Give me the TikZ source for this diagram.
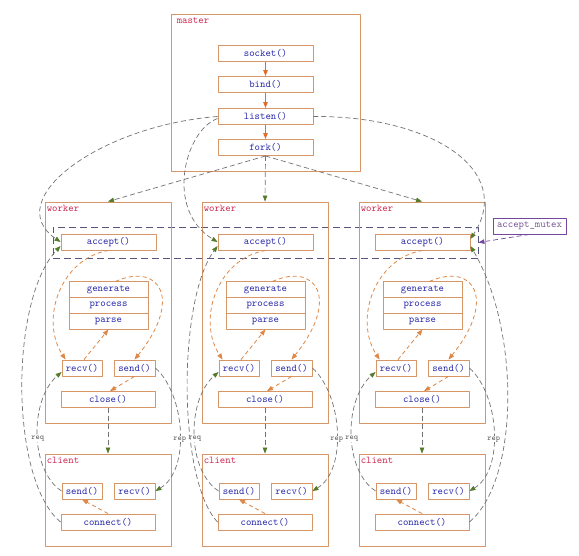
\documentclass[tikz,border=0pt]{standalone}
\usepackage{fontspec}
\usepackage{tikz}
\usetikzlibrary{arrows.meta}
\definecolor{boxc}{RGB}{214,150,104}
\definecolor{fnc}{RGB}{40,40,170}
\definecolor{tagc}{RGB}{205,40,80}
\definecolor{seqc}{RGB}{228,108,40}
\definecolor{flowc}{RGB}{222,135,70}
\definecolor{linkc}{RGB}{115,115,115}
\definecolor{tipc}{RGB}{84,122,44}
\definecolor{mutc}{RGB}{85,85,125}
\definecolor{mutexc}{RGB}{115,70,160}
\newcommand\fnfont{\fontsize{10.3}{12}\selectfont\ttfamily}
\newcommand\lblfont{\fontsize{8}{9}\selectfont\ttfamily}
\tikzset{
  every picture/.style={line join=round, >=Stealth},
  fn/.style={draw=boxc, line width=0.9pt, fill=white, text=fnc, font=\fnfont, inner sep=0pt, minimum height=16pt},
  grp/.style={draw=boxc, line width=0.9pt, inner sep=0pt},
  tag/.style={text=tagc, font=\fnfont, anchor=north west, inner sep=0pt},
  seq/.style={draw=seqc, line width=0.9pt, -{Triangle[length=6pt,width=4.5pt]}},
  flow/.style={draw=flowc, line width=0.8pt, dash pattern=on 4pt off 3pt, -{Triangle[length=6pt,width=4.5pt]}},
  link/.style={draw=linkc, line width=0.7pt, dash pattern=on 5pt off 3pt, -{Triangle[length=6pt,width=4.5pt,color=tipc]}},
  lbl/.style={font=\lblfont, text=linkc!80!black, fill=white, inner sep=0.5pt},
}
\begin{document}
\begin{tikzpicture}[x=1pt,y=-1pt]
\useasboundingbox[fill=white] (0,0) rectangle (579,555);
% master
\node[grp, minimum width=189pt, minimum height=157pt] (master) at (265.5,92.5) {};
\node[tag] (mastertag) at ([xshift=6pt,yshift=-4pt]master.north west) {master};
\node[fn, minimum width=95pt] (socket) at (265.5,53.5) {socket()};
\node[fn, minimum width=95pt] (bind) at (265.5,84.5) {bind()};
\node[fn, minimum width=95pt] (listen) at (265.5,116.5) {listen()};
\node[fn, minimum width=95pt] (fork) at (265.5,147.5) {fork()};
\draw[seq] (socket) -- (bind);
\draw[seq] (bind) -- (listen);
\draw[seq] (listen) -- (fork);
% accept mutex
\node[draw=mutc, dash pattern=on 7pt off 4pt, line width=0.8pt, minimum width=425pt, minimum height=31pt] (mtx) at (265.5,242.5) {};
\node[draw=mutexc, line width=0.8pt, text=mutexc!70!gray, font=\fnfont, minimum width=73pt, minimum height=16pt, inner sep=0pt] (amutex) at (529.5,226) {accept\_mutex};
\draw[draw=mutexc, line width=0.7pt, dash pattern=on 5pt off 3pt, -{Triangle[length=6pt,width=4.5pt]}] (amutex.south) -- (mtx.east);
% workers and clients
\foreach \i/\dx in {1/0,2/157,3/314}{
  \begin{scope}[xshift=\dx pt]
  \node[grp, minimum width=126pt, minimum height=221pt] (w\i) at (108,312.5) {};
  \node[tag] (wt\i) at ([xshift=2pt,yshift=-3pt]w\i.north west) {worker};
  \node[fn, minimum width=95pt] (acc\i) at (108.5,242) {accept()};
  \node[fn, minimum width=79pt, minimum height=15.7pt] (gen\i) at (108.5,289.7) {generate};
  \node[fn, minimum width=79pt, minimum height=15.7pt] (pro\i) at (108.5,305.4) {process};
  \node[fn, minimum width=79pt, minimum height=15.7pt] (par\i) at (108.5,321.1) {parse};
  \node[fn, minimum width=40pt] (wrecv\i) at (82,368) {recv()};
  \node[fn, minimum width=41pt] (wsend\i) at (134.5,368) {send()};
  \node[fn, minimum width=94pt] (close\i) at (108,399.5) {close()};
  \node[grp, minimum width=126pt, minimum height=92pt] (c\i) at (108,500) {};
  \node[tag] (ct\i) at ([xshift=2pt,yshift=-3pt]c\i.north west) {client};
  \node[fn, minimum width=40pt] (csend\i) at (82,491) {send()};
  \node[fn, minimum width=41pt] (crecv\i) at (134.5,491) {recv()};
  \node[fn, minimum width=94pt] (conn\i) at (108,522) {connect()};
  \end{scope}
  \draw[link] (fork.south) -- (w\i.north);
  \draw[flow] (acc\i.south) .. controls +(-48,8) and +(-26,-40) .. ([xshift=4pt]wrecv\i.north west);
  \draw[flow] ([xshift=2pt]wrecv\i.north) -- (par\i.south);
  \draw[flow] ([xshift=7pt]gen\i.north) .. controls +(44.5,-19.5) and +(48.5,-60) .. (wsend\i.north);
  \draw[flow] (wsend\i.south) -- ([xshift=2pt]close\i.north);
  \draw[link] (close\i.south) -- (c\i.north);
  \draw[flow] (conn\i.north) -- (csend\i.south);
  \draw[link] (wsend\i.east) .. controls +(30,27) and +(35,-21) .. node[lbl, pos=0.55] (rep\i) {rep} (crecv\i.east);
  \draw[link] (csend\i.west) .. controls +(-32,-21) and +(-32,28) .. node[lbl, pos=0.47] (req\i) {req} ([yshift=-4pt]wrecv\i.west);
}
% listen and connect to accept
\draw[link] (listen.west) .. controls +(-118,9) and +(-61,-42) .. (acc1.west);
\draw[link] ([yshift=-2pt]listen.west) .. controls +(-33,12) and +(-53,-32) .. (acc2.west);
\draw[link] (listen.east) .. controls +(117,-1) and +(45,-69) .. ([yshift=3pt]acc3.east);
\draw[link] (conn1.west) .. controls +(-51,-42) and +(-51,54) .. ([yshift=-4pt]acc1.west);
\draw[link] (conn2.west) .. controls +(-40,-42) and +(-40,54) .. ([yshift=-4pt]acc2.west);
\draw[link] (conn3.east) .. controls +(50,-42) and +(50,84) .. ([yshift=-4pt]acc3.east);
\end{tikzpicture}
\end{document}
